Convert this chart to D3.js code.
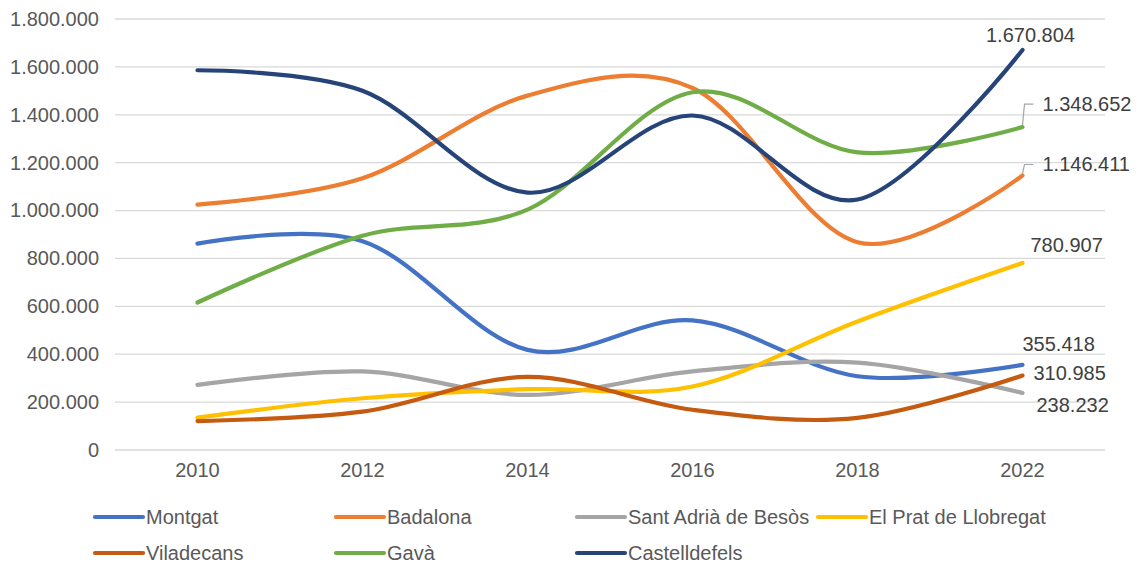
<!DOCTYPE html>
<html>
<head>
<meta charset="utf-8">
<script src="https://cdn.jsdelivr.net/npm/d3@7"></script>
<style>
  body { margin: 0; background: #fff; }
  text { font-family: "Liberation Sans", Arial, sans-serif; }
</style>
</head>
<body>
<div id="container"></div>
<script>
/* CONSTANTS AND GLOBALS */
const width = 1136,
  height = 564,
  margin = { top: 19, bottom: 114, left: 115, right: 31 };

/* DATA */
const years = ['2010', '2012', '2014', '2016', '2018', '2022'];
const yTicks = [0, 200000, 400000, 600000, 800000, 1000000, 1200000, 1400000, 1600000, 1800000];

const montgat = [862000, 872000, 418000, 541000, 308000, 355418];
const badalona = [1025000, 1135000, 1480000, 1512000, 868000, 1146411];
const santAdria = [272000, 328000, 230000, 328000, 365000, 238232];
const elPrat = [135000, 216000, 254000, 265000, 537000, 780907];
const viladecans = [121000, 160000, 305000, 168000, 134000, 310985];
const gava = [616000, 895000, 1004000, 1494000, 1243000, 1348652];
const castelldefels = [1586000, 1500000, 1075000, 1397000, 1046000, 1670804];

const names = ['Montgat', 'Badalona', 'Sant Adrià de Besòs', 'El Prat de Llobregat',
  'Viladecans', 'Gavà', 'Castelldefels'];
const values = [montgat, badalona, santAdria, elPrat, viladecans, gava, castelldefels];
const colors = ['#4472C4', '#ED7D31', '#A5A5A5', '#FFC000', '#C55A11', '#70AD47', '#264478'];

// where the end label sits relative to the last point (x offset, baseline offset, anchor, leader)
const labelPos = [
  { dx: 0, dy: -14, anchor: 'start' },
  { dx: 20, dy: -4, anchor: 'start', leader: true },
  { dx: 14, dy: 19, anchor: 'start' },
  { dx: 8, dy: -11, anchor: 'start' },
  { dx: 11, dy: 4, anchor: 'start' },
  { dx: 20, dy: -16, anchor: 'start', leader: true },
  { dx: 8, dy: -8, anchor: 'middle' }
];

const series = names.map((name, i) => ({
  name,
  color: colors[i],
  label: labelPos[i],
  points: years.map((y, j) => ({ year: y, value: values[i][j] }))
}));

const fmt = d3.formatLocale({ decimal: ',', thousands: '.', grouping: [3], currency: ['', '€'] }).format(',');

/* SCALES */
const xScale = d3.scaleBand()
  .domain(years)
  .range([margin.left, width - margin.right]);

const yScale = d3.scaleLinear()
  .domain([0, 1800000])
  .range([height - margin.bottom, margin.top]);

const xPos = d => xScale(d) + xScale.bandwidth() / 2;

/* HTML ELEMENTS */
const svg = d3.select('#container')
  .append('svg')
  .attr('width', width)
  .attr('height', height);

// gridlines
svg.append('g')
  .selectAll('line')
  .data(yTicks)
  .join('line')
  .attr('x1', margin.left)
  .attr('x2', width - margin.right)
  .attr('y1', d => yScale(d))
  .attr('y2', d => yScale(d))
  .attr('stroke', '#D9D9D9')
  .attr('stroke-width', 1.3);

// y axis
const yAxis = d3.axisLeft(yScale).tickValues(yTicks).tickFormat(fmt).tickSize(0).tickPadding(16);
svg.append('g')
  .attr('transform', `translate(${margin.left},0)`)
  .call(yAxis)
  .call(g => g.select('.domain').remove())
  .call(g => g.selectAll('text')
    .attr('fill', '#595959')
    .style('font-size', '20px'));

// x axis
const xAxis = d3.axisBottom(xScale).tickSize(0).tickPadding(13);
svg.append('g')
  .attr('transform', `translate(0,${height - margin.bottom})`)
  .call(xAxis)
  .call(g => g.select('.domain').remove())
  .call(g => g.selectAll('text')
    .attr('fill', '#595959')
    .style('font-size', '20px'));

// lines
const line = d3.line()
  .x(d => xPos(d.year))
  .y(d => yScale(d.value))
  .curve(d3.curveCardinal.tension(0));

svg.append('g')
  .selectAll('path')
  .data(series)
  .join('path')
  .attr('d', d => line(d.points))
  .attr('fill', 'none')
  .attr('stroke', d => d.color)
  .attr('stroke-width', 4.2)
  .attr('stroke-linecap', 'round');

// end labels
const last = years[years.length - 1];
series.forEach(s => {
  const v = s.points[s.points.length - 1].value;
  const px = xPos(last), py = yScale(v);
  const ty = py + s.label.dy;
  if (s.label.leader) {
    svg.append('path')
      .attr('d', `M${px},${py - 2}L${px + 2},${ty - 7}L${px + 11},${ty - 7}`)
      .attr('fill', 'none')
      .attr('stroke', '#A6A6A6')
      .attr('stroke-width', 1.2);
  }
  svg.append('text')
    .attr('x', px + s.label.dx)
    .attr('y', ty)
    .attr('text-anchor', s.label.anchor)
    .attr('fill', '#404040')
    .style('font-size', '20px')
    .text(fmt(v));
});

// legend
const legend = svg.append('g');
const legendItems = legend.selectAll('g')
  .data(series)
  .join('g')
  .attr('transform', (d, i) => `translate(${95 + (i % 4) * 241},${517 + Math.floor(i / 4) * 36})`);

legendItems.append('line')
  .attr('x1', 0).attr('x2', 48)
  .attr('stroke', d => d.color)
  .attr('stroke-width', 4.2)
  .attr('stroke-linecap', 'round');

legendItems.append('text')
  .attr('x', 51)
  .attr('y', 7)
  .attr('fill', '#595959')
  .style('font-size', '20px')
  .text(d => d.name);
</script>
</body>
</html>
